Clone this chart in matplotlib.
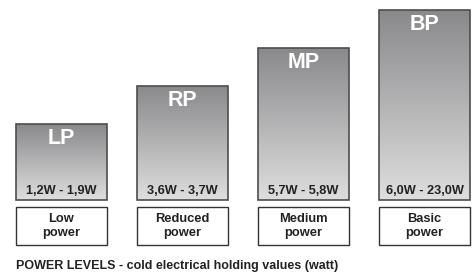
import numpy as np
import matplotlib.pyplot as plt
from matplotlib.colors import LinearSegmentedColormap
from matplotlib.patches import Rectangle

codes = ["LP", "RP", "MP", "BP"]
levels = [2, 3, 4, 5]
ranges = ["1,2W - 1,9W", "3,6W - 3,7W", "5,7W - 5,8W", "6,0W - 23,0W"]
names = ["Low\npower", "Reduced\npower", "Medium\npower", "Basic\npower"]
title = "POWER LEVELS - cold electrical holding values (watt)"

plt.rcParams['font.family'] = ['Liberation Sans', 'DejaVu Sans']

fig = plt.figure(figsize=(4.76, 2.73), dpi=100)
ax = fig.add_axes([0, 0, 1, 1])
ax.set_xlim(-0.508, 3.426)
ax.set_ylim(-1.921, 5.263)
ax.axis("off")

cmap = LinearSegmentedColormap.from_list("grey", ["#dedede", "#89898c"])
grad = np.linspace(0, 1, 256).reshape(-1, 1)
w = 0.75

bars = ax.bar(range(len(codes)), levels, width=w, color="none",
              edgecolor="#4d4d4d", linewidth=1.2, zorder=3)
for i, (b, h) in enumerate(zip(bars, levels)):
    im = ax.imshow(grad, cmap=cmap, aspect="auto", origin="lower",
                   extent=(i - w / 2, i + w / 2, 0, h), zorder=2)
    im.set_clip_path(b)
    ax.text(i, h - 0.37, codes[i], ha="center", va="center", color="white",
            fontsize=15.5, fontweight="bold", zorder=4)
    ax.text(i, 0.24, ranges[i], ha="center", va="center", color="#222222",
            fontsize=9.2, fontweight="bold", zorder=4)
    ax.add_patch(Rectangle((i - w / 2, -1.184), w, 1.0, facecolor="white",
                           edgecolor="#333333", linewidth=1.0, zorder=3))
    ax.text(i, -0.684, names[i], ha="center", va="center", color="#222222",
            fontsize=9.3, fontweight="bold", linespacing=1.3, zorder=4)

ax.text(-0.376, -1.737, title, ha="left", va="center", color="#222222",
        fontsize=9.0, fontweight="bold")

fig.savefig("out.png", dpi=100)
